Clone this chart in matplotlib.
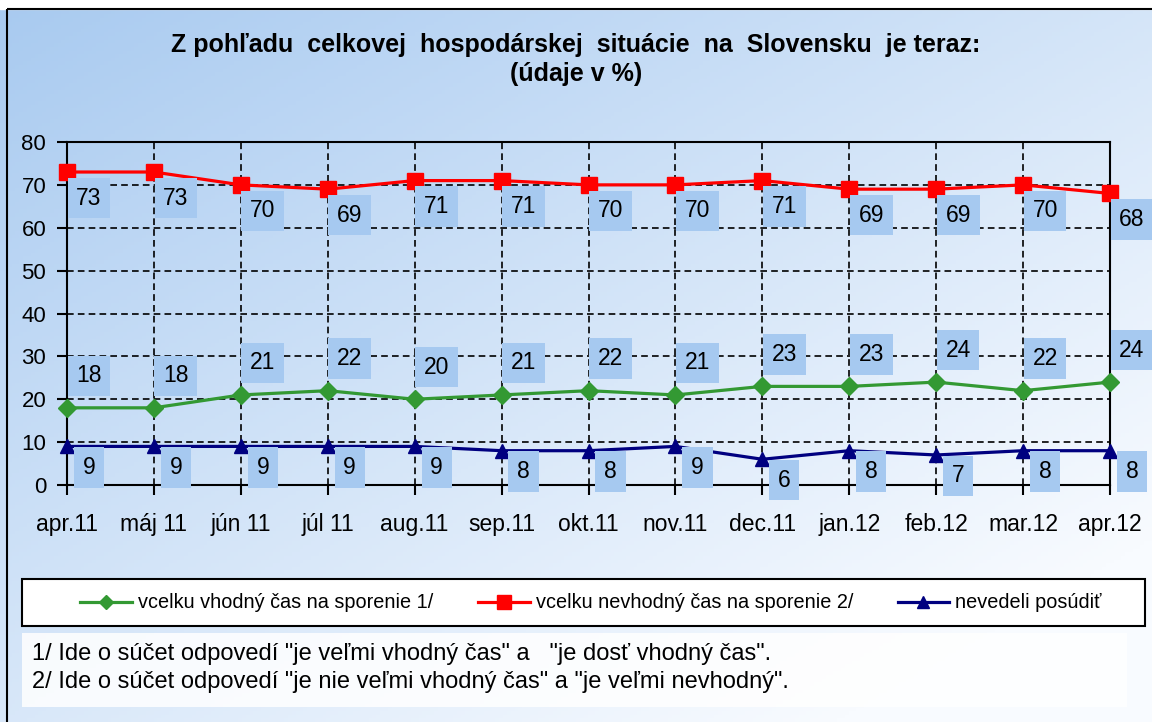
import matplotlib.pyplot as plt
import numpy as np
from matplotlib.patches import Rectangle

plt.rcParams['font.family'] = ['Liberation Sans', 'DejaVu Sans']

months = ['apr.11', 'máj 11', 'jún 11', 'júl 11', 'aug.11', 'sep.11', 'okt.11',
          'nov.11', 'dec.11', 'jan.12', 'feb.12', 'mar.12', 'apr.12']
good = [18, 18, 21, 22, 20, 21, 22, 21, 23, 23, 24, 22, 24]
bad = [73, 73, 70, 69, 71, 71, 70, 70, 71, 69, 69, 70, 68]
unknown = [9, 9, 9, 9, 9, 8, 8, 9, 6, 8, 7, 8, 8]

names = ['vcelku vhodný čas na sporenie 1/',
         'vcelku nevhodný čas na sporenie 2/',
         'nevedeli posúdiť']
notes = ['1/ Ide o súčet odpovedí "je veľmi vhodný čas" a   "je dosť vhodný čas".',
         '2/ Ide o súčet odpovedí "je nie veľmi vhodný čas" a "je veľmi nevhodný".']

W, H = 1152, 722
fig = plt.figure(figsize=(W / 100, H / 100), dpi=100)

# gradient background
bg = fig.add_axes([0, 0, 1, 1])
yy, xx = np.mgrid[0:1:200j, 0:1:300j]
t = np.clip(0.55 * xx + 0.6 * yy, 0, 1)[..., None]
c0 = np.array([168, 202, 240]) / 255
c1 = np.array([248, 251, 255]) / 255
bg.imshow(c0 + (c1 - c0) * t, extent=[0, W, H, 0], aspect='auto')
bg.add_patch(Rectangle((0, 0), W, 9, color='white', zorder=2))
bg.add_patch(Rectangle((7, 9), W + 20, H, fill=False, edgecolor='black', lw=1.5, zorder=3))
# legend frame and footnote box
bg.add_patch(Rectangle((22, 579), 1123, 47, facecolor='white', edgecolor='black',
                       lw=1.5, zorder=2))
bg.add_patch(Rectangle((22, 633), 1105, 74, facecolor='white', alpha=0.85,
                       edgecolor='none', zorder=2))
bg.set_xlim(0, W)
bg.set_ylim(H, 0)
bg.axis('off')

ax = fig.add_axes([67 / W, 1 - 485 / H, 1043 / W, 343 / H])
ax.patch.set_alpha(0)
x = np.arange(len(months))

series = [
    (good, '#339933', 'D', 9, 32),
    (bad, '#ff0000', 's', 12, -26),
    (unknown, '#000080', '^', 10, -21),
]
for (vals, col, mk, ms, dy), name in zip(series, names):
    ax.plot(x, vals, color=col, lw=2.3, marker=mk, markersize=ms,
            label=name, clip_on=False, zorder=4)
    for xi, v in zip(x, vals):
        ax.annotate(str(v), (xi, v), xytext=(22, dy), textcoords='offset pixels',
                    ha='center', va='center', fontsize=16.5, zorder=5,
                    bbox=dict(boxstyle='square,pad=0.38', fc='#a6c9f0', ec='none'),
                    annotation_clip=False)

ax.set_xlim(0, len(months) - 1)
ax.set_ylim(0, 80)
ax.set_yticks(range(0, 81, 10))
ax.set_xticks(x)
ax.set_xticklabels(months)
ax.tick_params(labelsize=16, length=7, width=1.5, direction='out')
ax.tick_params(axis='x', labelsize=16.5, pad=13)
ax.tick_params(axis='y', pad=8)
ax.grid(True, color='black', linestyle=(0, (4, 2.5)), lw=1.2)
for s in ax.spines.values():
    s.set_linewidth(1.5)

fig.text(576 / W, 1 - 45 / H,
         'Z pohľadu  celkovej  hospodárskej  situácie  na  Slovensku  je teraz:',
         ha='center', va='center', fontsize=18, fontweight='bold')
fig.text(576 / W, 1 - 74 / H, '(údaje v %)', ha='center', va='center',
         fontsize=18, fontweight='bold')

handles, labels = ax.get_legend_handles_labels()
leg = fig.legend(handles, labels, loc='center', bbox_to_anchor=(591 / W, 1 - 603 / H),
                 ncol=3, fontsize=14.3, frameon=False, handlelength=2.6,
                 handletextpad=0.3, columnspacing=2.25, borderaxespad=0,
                 markerscale=0.8)

for i, note in enumerate(notes):
    fig.text(32 / W, 1 - (654 + 28 * i) / H, note, ha='left', va='center', fontsize=17)

fig.savefig('out.png', dpi=100)
